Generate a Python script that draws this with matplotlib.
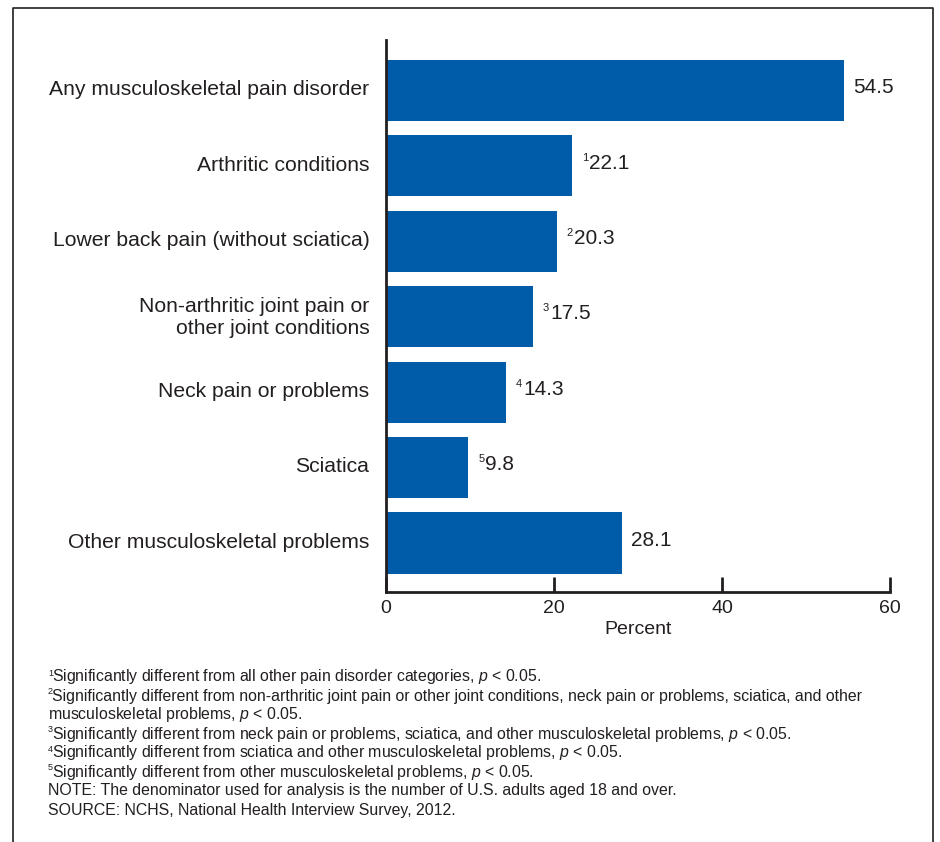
import matplotlib
matplotlib.use("Agg")
import matplotlib.pyplot as plt
from matplotlib.lines import Line2D
from matplotlib.transforms import ScaledTranslation

plt.rcParams['font.family'] = ['Liberation Sans', 'DejaVu Sans']
plt.rcParams['mathtext.fontset'] = 'custom'
plt.rcParams['mathtext.it'] = 'Liberation Sans:italic'
plt.rcParams['mathtext.rm'] = 'Liberation Sans'

categories = [
    "Any musculoskeletal pain disorder",
    "Arthritic conditions",
    "Lower back pain (without sciatica)",
    "Non-arthritic joint pain or\nother joint conditions",
    "Neck pain or problems",
    "Sciatica",
    "Other musculoskeletal problems",
]
values = [54.5, 22.1, 20.3, 17.5, 14.3, 9.8, 28.1]
marks = ["", "1", "2", "3", "4", "5", ""]
xticks = [0, 20, 40, 60]

footnotes = [
    ("1", "Significantly different from all other pain disorder categories, $p$ < 0.05."),
    ("2", "Significantly different from non-arthritic joint pain or other joint conditions, neck pain or problems, sciatica, and other"),
    ("", "musculoskeletal problems, $p$ < 0.05."),
    ("3", "Significantly different from neck pain or problems, sciatica, and other musculoskeletal problems, $p$ < 0.05."),
    ("4", "Significantly different from sciatica and other musculoskeletal problems, $p$ < 0.05."),
    ("5", "Significantly different from other musculoskeletal problems, $p$ < 0.05."),
    ("", "NOTE: The denominator used for analysis is the number of U.S. adults aged 18 and over."),
    ("", "SOURCE: NCHS, National Health Interview Survey, 2012."),
]

ink = '#231f20'
blue = '#005ba9'
W, H = 940, 842

fig = plt.figure(figsize=(9.4, 8.42), dpi=100)
ax = fig.add_axes([386 / W, 1 - 592 / H, 504 / W, 552 / H])

ypos = list(range(len(categories)))
ax.barh(ypos, values, height=0.81, color=blue)
ax.set_xlim(0, 60)
ax.set_ylim(6.65, -0.67)

for y, v, m in zip(ypos, values, marks):
    if m:
        ax.annotate(m, (v, y), xytext=(7.2, 6), textcoords='offset points',
                    ha='left', va='center', fontsize=8, color=ink)
        ax.annotate(f"{v:.1f}", (v, y), xytext=(12.3, 2), textcoords='offset points',
                    ha='left', va='center', fontsize=15, color=ink)
    else:
        ax.annotate(f"{v:.1f}", (v, y), xytext=(6.5, 2), textcoords='offset points',
                    ha='left', va='center', fontsize=15, color=ink)

ax.set_yticks(ypos)
ax.set_yticklabels(categories, fontsize=15.2, color=ink, linespacing=1.2)
ax.tick_params(axis='y', length=0, pad=12)
shift = ScaledTranslation(0, 2 / 72, fig.dpi_scale_trans)
for lab in ax.get_yticklabels():
    lab.set_transform(lab.get_transform() + shift)
ax.set_xticks(xticks)
ax.set_xticklabels([str(t) for t in xticks], fontsize=14, color=ink)
ax.tick_params(axis='x', direction='in', length=11, width=2, color=ink, pad=6)
ax.set_xlabel("Percent", fontsize=14, color=ink, labelpad=3)

for s in ['top', 'right']:
    ax.spines[s].set_visible(False)
for s in ['left', 'bottom']:
    ax.spines[s].set_linewidth(2)
    ax.spines[s].set_color(ink)

# outer frame (open at the bottom)
fx0, fx1, fy0 = 12.5 / W, 932.5 / W, 1 - 7.5 / H
fig.add_artist(Line2D([fx0, fx0, fx1, fx1], [0, fy0, fy0, 0],
                      transform=fig.transFigure, color=ink, lw=1.2))

# footnotes
y0 = 677
for i, (m, txt) in enumerate(footnotes):
    yy = 1 - (y0 + i * 19) / H
    x = 48 / W
    if m:
        fig.text(x, yy + 4 / H, m, fontsize=6.5, color=ink, va='center', ha='left')
        x = 52.5 / W
    fig.text(x, yy, txt, fontsize=11.4, color=ink, va='center', ha='left')

fig.savefig("out.png", dpi=100)
